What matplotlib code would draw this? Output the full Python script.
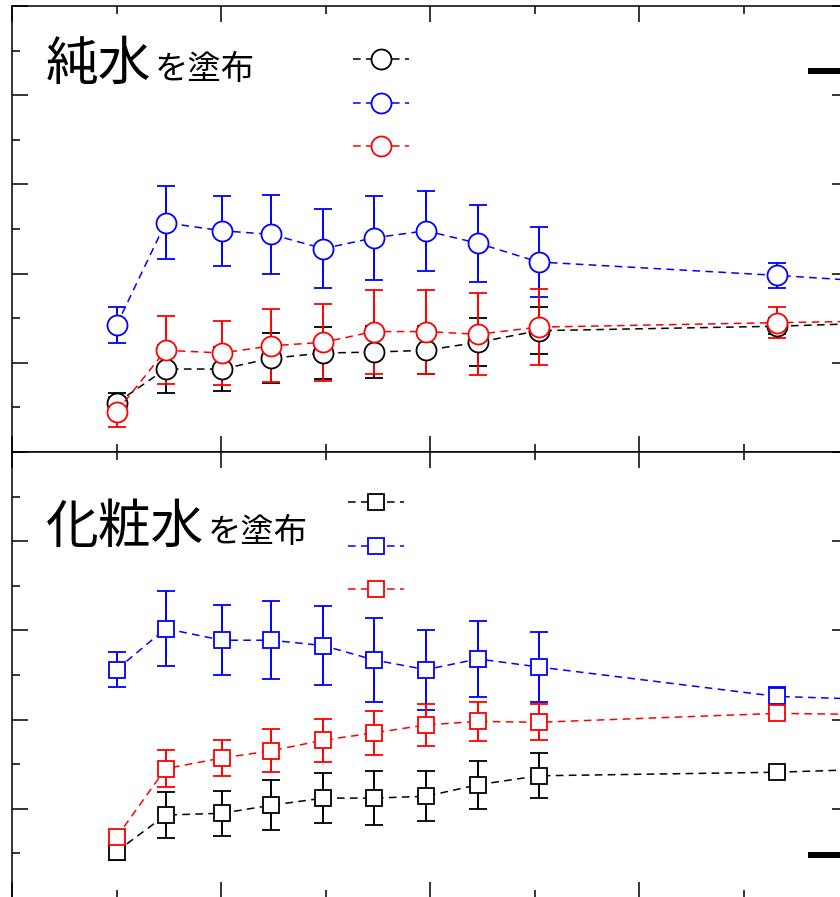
import matplotlib
matplotlib.use('Agg')
import matplotlib.pyplot as plt
from matplotlib.ticker import MultipleLocator

plt.rcParams['font.family'] = ['Noto Sans CJK JP', 'DejaVu Sans']

# time axis (the last point lies past the cropped right edge)
x = [0, 4.7, 10.1, 14.8, 19.8, 24.6, 29.6, 34.6, 40.4, 63.2, 90]

# top panel: pure water (circles)
top_black = [5.5, 9.3, 9.3, 10.5, 11.1, 11.2, 11.4, 12.3, 13.6, 14.1, 15.1]
top_black_err = [1.1, 2.7, 2.5, 2.8, 2.9, 2.9, 2.7, 2.7, 2.6, 0.9, 0.9]
top_blue = [14.2, 25.7, 24.8, 24.4, 22.8, 24.0, 24.8, 23.4, 21.3, 19.8, 17.8]
top_blue_err = [2.0, 4.1, 3.9, 4.4, 4.4, 4.7, 4.5, 4.3, 3.9, 1.4, 1.4]
top_red = [4.5, 11.4, 11.1, 11.9, 12.3, 13.5, 13.5, 13.2, 14.0, 14.5, 15.0]
top_red_err = [1.7, 3.8, 3.6, 4.1, 4.3, 4.7, 4.7, 4.6, 4.3, 1.7, 1.7]

# bottom panel: lotion (squares)
bot_black = [5.2, 9.3, 9.5, 10.4, 11.2, 11.2, 11.4, 12.7, 13.7, 14.1, 15.1]
bot_black_err = [0.9, 2.6, 2.5, 2.8, 2.8, 3.0, 2.8, 2.7, 2.5, 0.2, 0.2]
bot_blue = [25.6, 30.2, 28.9, 28.9, 28.3, 26.7, 25.6, 26.8, 25.9, 22.6, 21.6]
bot_blue_err = [2.0, 4.2, 3.9, 4.4, 4.4, 4.7, 4.5, 4.3, 3.9, 1.1, 1.1]
bot_red = [6.8, 14.5, 15.7, 16.5, 17.7, 18.5, 19.4, 19.8, 19.7, 20.7, 20.3]
bot_red_err = [0.6, 2.1, 2.0, 2.4, 2.4, 2.5, 2.4, 2.2, 2.0, 0.5, 0.5]

colors = ['#000000', '#0000ff', '#ff0000']

W, H = 840, 897
fig = plt.figure(figsize=(W / 100, H / 100), dpi=100)
ax1 = fig.add_axes([12 / W, (H - 452) / H, 836 / W, 446 / H])
ax2 = fig.add_axes([12 / W, (H - 898) / H, 836 / W, 446 / H])


def draw_panel(ax, series, marker, msize, legend_xy):
    handles = []
    for (y, e), c in zip(series, colors):
        cont = ax.errorbar(x, y, yerr=e, color=c, ecolor=c, elinewidth=1.4,
                           capsize=6.5, capthick=1.4, marker=marker, ms=msize,
                           mfc='white', mec=c, mew=1.3, lw=1.1,
                           linestyle=(0, (5, 3.5)))
        handles.append(cont[0])
    ax.set_xlim(-10, 70)
    ax.set_ylim(0, 50)
    ax.xaxis.set_major_locator(MultipleLocator(20, offset=10))
    ax.xaxis.set_minor_locator(MultipleLocator(10))
    ax.yaxis.set_major_locator(MultipleLocator(10))
    ax.yaxis.set_minor_locator(MultipleLocator(5))
    ax.tick_params(which='both', direction='in', top=True, right=True,
                   labelbottom=False, labelleft=False, width=1.1)
    ax.tick_params(which='major', length=11.5)
    ax.tick_params(which='minor', length=5.8)
    for s in ax.spines.values():
        s.set_linewidth(1.1)
    leg = ax.legend(handles, [' ', ' ', ' '], loc='upper left',
                    bbox_to_anchor=legend_xy, frameon=False, fontsize=16,
                    handlelength=2.5, labelspacing=0.92, numpoints=1,
                    borderpad=0, borderaxespad=0, handletextpad=0.2)
    return leg


draw_panel(ax1, [(top_black, top_black_err), (top_blue, top_blue_err),
                 (top_red, top_red_err)], 'o', 14.4,
           ((353 - 12) / 836, (452 - 49) / 446))
draw_panel(ax2, [(bot_black, bot_black_err), (bot_blue, bot_blue_err),
                 (bot_red, bot_red_err)], 's', 12.2,
           ((348 - 12) / 836, (898 - 492) / 446))

# thick marks cut by the right edge
ax1.plot([(808 - 12) / 836, 1.05], [(452 - 71) / 446] * 2, color='black',
         lw=4.3, transform=ax1.transAxes, clip_on=False, solid_capstyle='butt')
ax2.plot([(808 - 12) / 836, 1.05], [(898 - 855) / 446] * 2, color='black',
         lw=4.3, transform=ax2.transAxes, clip_on=False, solid_capstyle='butt')

# panel titles
fig.text(46 / W, 1 - 80 / H, '純水', fontsize=38, va='baseline', ha='left')
fig.text(155 / W, 1 - 79 / H, 'を塗布', fontsize=24, va='baseline', ha='left')
fig.text(46 / W, 1 - 543 / H, '化粧水', fontsize=38, va='baseline', ha='left')
fig.text(208 / W, 1 - 542 / H, 'を塗布', fontsize=24, va='baseline', ha='left')

fig.savefig('out.png', dpi=100)
